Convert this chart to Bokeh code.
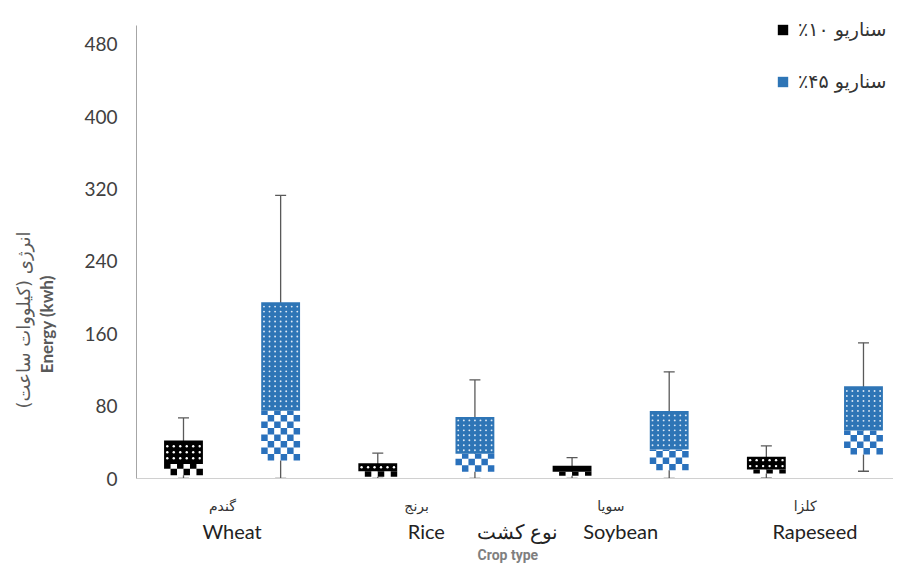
import math
from bokeh.plotting import figure
from bokeh.models import (Range1d, FixedTicker, Legend, LegendItem, Whisker, TeeHead,
                          ColumnDataSource, LinearAxis)
from bokeh.core.properties import value
from bokeh.embed import file_html
from bokeh.resources import INLINE

RLM = "\u200f"
ENSP = "\u2002"

# ---------------- data ----------------
crops_en = ["Wheat", "Rice", "Soybean", "Rapeseed"]
crops_fa = ["گندم", "برنج", "سویا", "کلزا"]
scenario_labels = ["سناریو ۱۰٪", "سناریو ۴۵٪"]
x_title_fa = "نوع کشت"
x_title_en = "Crop type"
y_title_en = "Energy (kwh)"
y_title_fa = "انرژی (کیلووات ساعت)"

# scenario 10%
s10_low = [0, 0, 0, 0.5]
s10_q1 = [3.5, 2, 3, 5.5]
s10_med = [16, 8, 7.5, 10]
s10_q3 = [42, 17, 14, 24]
s10_high = [67, 28, 23, 36]

# scenario 45%
s45_low = [0, 0, 0, 8]
s45_q1 = [20, 7.5, 9, 26.5]
s45_med = [75, 27.5, 32, 53]
s45_q3 = [195, 68, 74.5, 102]
s45_high = [313, 109, 118, 150]

y_ticks = [0, 80, 160, 240, 320, 400, 480]
y_axis_top = 501

# ---------------- figure ----------------
W, H = 893, 565
BL, BR, BT, BB = 136, 0, 8, 85
X0, X1 = -0.4838, 7.309
Y0, Y1 = 0, 519.7

p = figure(width=W, height=H, output_backend="svg", toolbar_location=None,
           x_range=Range1d(X0, X1), y_range=Range1d(Y0, Y1),
           min_border_left=BL, min_border_right=BR, min_border_top=BT, min_border_bottom=BB)
p.outline_line_color = None
p.grid.visible = False
p.background_fill_color = "white"

X_PPU = (W - BL - BR) / (X1 - X0)
Y_PPU = (H - BT - BB) / (Y1 - Y0)

x10 = [2 * i for i in range(len(crops_en))]
x45 = [2 * i + 1 for i in range(len(crops_en))]

BLUE = "#2E75B6"
BLUE_CHK = "#2A71BC"
BW = 0.4


def checker_cells(xs, bottoms, tops, cell_px):
    cw = cell_px / X_PPU
    ncol = max(1, round(BW / cw))
    cw = BW / ncol
    chh = cell_px / Y_PPU
    out = dict(x=[], y=[], w=[], h=[])
    for x, b, t in zip(xs, bottoms, tops):
        nrow = max(1, math.ceil((t - b) / chh - 1e-6))
        for r in range(nrow):
            y0 = b + r * chh
            y1 = min(t, y0 + chh)
            for c in range(ncol):
                if (r + c) % 2 == 1:
                    left = x - BW / 2 + c * cw
                    out["x"].append(left + cw / 2)
                    out["y"].append((y0 + y1) / 2)
                    out["w"].append(cw)
                    out["h"].append(y1 - y0)
    return out


def dot_grid(xs, bottoms, tops, step_px):
    sx = step_px / X_PPU
    ncol = max(1, int(BW / sx))
    sx = BW / ncol
    sy = step_px / Y_PPU
    out = dict(x=[], y=[])
    for x, b, t in zip(xs, bottoms, tops):
        nrow = int((t - b) / sy)
        off = ((t - b) - nrow * sy) / 2
        for r in range(nrow):
            for c in range(ncol):
                out["x"].append(x - BW / 2 + (c + 0.5) * sx)
                out["y"].append(b + off + (r + 0.5) * sy)
    return out


# whiskers (under the boxes)
for xs, lo, hi in ((x10, s10_low, s10_high), (x45, s45_low, s45_high)):
    src = ColumnDataSource(dict(x=xs, lower=lo, upper=hi))
    w = Whisker(source=src, base="x", lower="lower", upper="upper", dimension="height",
                line_color="#595959", line_width=1.3, level="underlay",
                upper_head=TeeHead(size=11, line_color="#595959", line_width=1.3),
                lower_head=TeeHead(size=11, line_color="#595959", line_width=1.3))
    p.add_layout(w)

# lower parts (checker pattern)
p.vbar(x=x10, width=BW, bottom=s10_q1, top=s10_med, fill_color="white", line_color=None)
p.vbar(x=x45, width=BW, bottom=s45_q1, top=s45_med, fill_color="white", line_color=None)
c10 = checker_cells(x10, s10_q1, s10_med, 6.5)
c45 = checker_cells(x45, s45_q1, s45_med, 6.5)
p.rect(x="x", y="y", width="w", height="h", source=ColumnDataSource(c10),
       fill_color="#000000", line_color=None)
p.rect(x="x", y="y", width="w", height="h", source=ColumnDataSource(c45),
       fill_color=BLUE_CHK, line_color=None)

# upper parts (dotted)
r10 = p.vbar(x=x10, width=BW, bottom=s10_med, top=s10_q3, fill_color="#000000", line_color=None)
r45 = p.vbar(x=x45, width=BW, bottom=s45_med, top=s45_q3, fill_color=BLUE, line_color=None)
d10 = dot_grid(x10, s10_med, s10_q3, 6.0)
d45 = dot_grid(x45, s45_med, s45_q3, 5.0)
p.scatter(x="x", y="y", source=ColumnDataSource(d10), marker="circle", size=2.4,
          fill_color="white", line_color=None)
p.scatter(x="x", y="y", source=ColumnDataSource(d45), marker="circle", size=1.9,
          fill_color="#DCE8F5", line_color=None)

# ---------------- y axes ----------------
p.yaxis.ticker = FixedTicker(ticks=y_ticks)
p.yaxis.bounds = (0, y_axis_top)
p.yaxis.major_tick_in = 0
p.yaxis.major_tick_out = 0
p.yaxis.minor_tick_line_color = None
p.yaxis.major_label_standoff = 19
p.yaxis.major_label_text_font = "Lato"
p.yaxis.major_label_text_font_size = "19px"
p.yaxis.major_label_text_color = "#404040"
p.yaxis.axis_line_color = "#A6A6A6"
p.yaxis.axis_label = y_title_en + ENSP * 19
p.yaxis.axis_label_text_font = "Lato"
p.yaxis.axis_label_text_font_style = "bold"
p.yaxis.axis_label_text_font_size = "17px"
p.yaxis.axis_label_text_color = "#595959"
p.yaxis.axis_label_standoff = 24

yax2 = LinearAxis(ticker=FixedTicker(ticks=[]), axis_line_color=None, bounds=(0, y_axis_top),
                  major_tick_in=0, major_tick_out=0, minor_tick_line_color=None,
                  axis_label=RLM + y_title_fa + RLM + ENSP * 17,
                  axis_label_text_font="DejaVu Sans", axis_label_text_font_size="18px",
                  axis_label_text_font_style="normal",
                  axis_label_text_color="#595959", axis_label_standoff=0)
p.add_layout(yax2, "left")

# ---------------- x axes ----------------
fa_ticks = [round(2 * i + 0.5 - 0.1, 3) for i in range(len(crops_fa))]
p.xaxis.ticker = FixedTicker(ticks=fa_ticks)
p.xaxis.major_label_overrides = {t: s for t, s in zip(fa_ticks, crops_fa)}
p.xaxis.major_tick_in = 0
p.xaxis.major_tick_out = 0
p.xaxis.minor_tick_line_color = None
p.xaxis.axis_line_color = "#D0D0D0"
p.xaxis.major_label_standoff = 19
p.xaxis.major_label_text_font = "DejaVu Sans"
p.xaxis.major_label_text_font_size = "14px"
p.xaxis.major_label_text_color = "#333333"

en_ticks = [round(2 * i + 0.5, 3) for i in range(len(crops_en))]
en_labels = {t: s for t, s in zip(en_ticks, crops_en)}
en_labels[3.44] = x_title_fa
xax2 = LinearAxis(ticker=FixedTicker(ticks=sorted(en_labels)), axis_line_color=None,
                  major_tick_in=0, major_tick_out=0, minor_tick_line_color=None,
                  major_label_overrides=en_labels, major_label_standoff=2,
                  major_label_text_font="Lato", major_label_text_font_size="20px",
                  major_label_text_color="#222222",
                  axis_label=x_title_en + ENSP * 2, axis_label_text_font="Roboto",
                  axis_label_text_font_style="bold", axis_label_text_font_size="14px",
                  axis_label_text_color="#7F7F7F", axis_label_standoff=1)
p.add_layout(xax2, "below")

# ---------------- legend ----------------
legend = Legend(items=[LegendItem(label=value(scenario_labels[0] + RLM), renderers=[r10]),
                       LegendItem(label=value(scenario_labels[1] + RLM), renderers=[r45])],
                location=(640, 385), border_line_color=None, background_fill_alpha=0,
                glyph_width=13, glyph_height=13, label_standoff=9, spacing=28, padding=0,
                margin=0, label_text_font="DejaVu Sans", label_text_font_size="19px",
                label_text_color="#333333", label_height=24)
p.add_layout(legend)

open("out.html", "w").write(file_html(p, INLINE))
